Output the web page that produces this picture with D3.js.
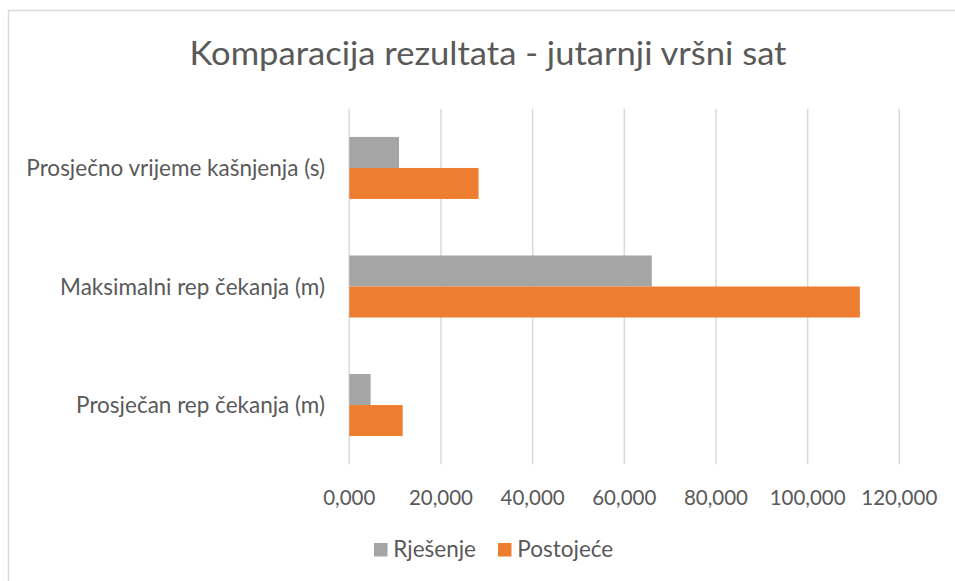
<!DOCTYPE html>
<html lang="hr">
<head>
    <meta charset="utf-8">
    <title>Komparacija rezultata</title>
    <script src="https://d3js.org/d3.v7.min.js"></script>
    <style>
        html, body { margin: 0; padding: 0; background: #fff; }
        svg { display: block; font-family: Lato, "Open Sans", sans-serif; }
        .grid line { stroke: #d9d9d9; stroke-width: 1.5; }
        .lbl { fill: #595959; }
    </style>
</head>
<body>
    <div id="chart"></div>
    <script>
        // Chart data
        var categories = ["Prosječno vrijeme kašnjenja (s)", "Maksimalni rep čekanja (m)", "Prosječan rep čekanja (m)"];
        var seriesNames = ["Rješenje", "Postojeće"];
        var rjesenje = [10.85, 66.0, 4.65];
        var postojece = [28.2, 111.4, 11.65];
        var xTicks = [0, 20, 40, 60, 80, 100, 120];
        var colors = ["#a5a5a5", "#ed7d31"];

        var width = 955, height = 581;
        var plot = { left: 349.3, right: 899.3, top: 108.7, bottom: 464.3 };

        var svg = d3.select("#chart").append("svg")
            .attr("width", width)
            .attr("height", height);

        // outer chart frame (right and bottom edge fall outside the window)
        svg.append("rect")
            .attr("x", 8.5).attr("y", 10.5)
            .attr("width", 990).attr("height", 620)
            .attr("fill", "#fff")
            .attr("stroke", "#d9d9d9")
            .attr("stroke-width", 1.5);

        svg.append("text")
            .attr("class", "lbl")
            .attr("x", 488).attr("y", 65)
            .attr("text-anchor", "middle")
            .attr("textLength", 597)
            .attr("lengthAdjust", "spacingAndGlyphs")
            .style("font-size", "32px")
            .text("Komparacija rezultata - jutarnji vršni sat");

        var x = d3.scaleLinear().domain([0, 120]).range([plot.left, plot.right]);
        var y = d3.scaleBand().domain(categories)
            .range([plot.top, plot.bottom])
            .paddingInner(0.477).paddingOuter(0.2385);
        var ySub = d3.scaleBand().domain(seriesNames).range([0, y.bandwidth()]);

        // vertical gridlines
        svg.append("g").attr("class", "grid")
            .selectAll("line").data(xTicks).join("line")
            .attr("x1", d => x(d)).attr("x2", d => x(d))
            .attr("y1", plot.top).attr("y2", plot.bottom);

        // bars
        var rows = categories.map((c, i) => ({ cat: c, vals: [rjesenje[i], postojece[i]] }));
        var groups = svg.append("g").selectAll("g").data(rows).join("g")
            .attr("transform", d => "translate(0," + y(d.cat) + ")");
        groups.selectAll("rect")
            .data(d => d.vals.map((v, j) => ({ name: seriesNames[j], v: v, j: j })))
            .join("rect")
            .attr("x", x(0))
            .attr("y", d => ySub(d.name))
            .attr("width", d => x(d.v) - x(0))
            .attr("height", ySub.bandwidth())
            .attr("fill", d => colors[d.j]);

        // category labels
        svg.append("g").selectAll("text").data(categories).join("text")
            .attr("class", "lbl")
            .attr("x", 325)
            .attr("y", d => y(d) + y.bandwidth() / 2 + 8)
            .attr("text-anchor", "end")
            .style("font-size", "22.5px")
            .text(d => d);

        // x tick labels
        var fmt = d => d3.format(",.3f")(d).replace(".", ",");
        svg.append("g").selectAll("text").data(xTicks).join("text")
            .attr("class", "lbl")
            .attr("x", d => x(d))
            .attr("y", 505)
            .attr("text-anchor", "middle")
            .style("font-size", "20.5px")
            .text(d => fmt(d));

        // legend
        var legendX = [374, 498];
        var legend = svg.append("g").selectAll("g").data(seriesNames).join("g")
            .attr("transform", (d, i) => "translate(" + legendX[i] + ",543)");
        legend.append("rect")
            .attr("width", 13.5).attr("height", 13.5)
            .attr("fill", (d, i) => colors[i]);
        legend.append("text")
            .attr("class", "lbl")
            .attr("x", 19.3).attr("y", 14)
            .style("font-size", "22.5px")
            .text(d => d);
    </script>
</body>
</html>
